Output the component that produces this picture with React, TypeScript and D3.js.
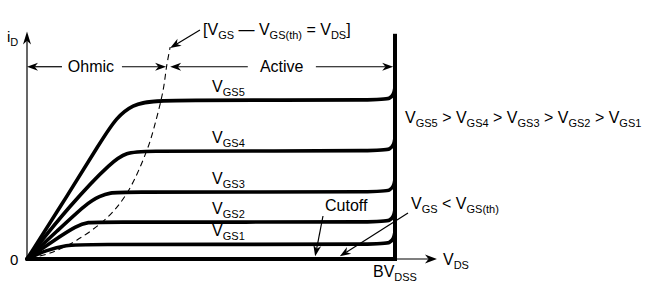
import React from "react";
import * as d3 from "d3";

// ---- data (VDS, iD in arbitrary % units of BVDSS / full scale) ----
const vgs5: [number, number][] = [[0,0],[10.8,28.2],[19.8,52.5],[24.4,64.4],[28.8,69.7],[33.4,71.9],[60,71.9],[96.7,71.9],[98.6,72.6],[99.7,74.6],[100,77.8]];
const vgs4: [number, number][] = [[0,0],[11.7,24.4],[23.4,44.8],[27.2,48.0],[30.7,48.9],[60,48.9],[96.7,48.9],[98.6,49.6],[99.7,51.6],[100,54.8]];
const vgs3: [number, number][] = [[0,0],[8.2,12.7],[16.3,25.3],[19.8,28.5],[22.6,30.0],[26.1,30.3],[60,30.3],[96.7,30.3],[98.6,31.0],[99.7,33.0],[100,36.2]];
const vgs2: [number, number][] = [[0,0],[7.2,8.3],[13.6,15.2],[16.6,16.7],[20,16.7],[60,16.7],[96.7,16.7],[98.6,17.4],[99.7,19.4],[100,22.6]];
const vgs1: [number, number][] = [[0,0],[5.4,4.1],[10.8,6.3],[15.2,6.6],[60,6.6],[96.7,6.6],[98.6,7.3],[99.7,9.3],[100,12.5]];
const cutoff: [number, number][] = [[0,0],[100,0]];
const breakdown: [number, number][] = [[100,0],[100,101]];
const boundary: [number, number][] = [[0.8,0.5],[6.3,2.7],[13.6,8.6],[21.7,18.6],[27.2,29.9],[32.6,49.3],[35.3,64.3],[37.0,76.5],[38.0,87.8],[38.9,95.9]];

const curves = [vgs5, vgs4, vgs3, vgs2, vgs1];
const curveNames = ["GS5", "GS4", "GS3", "GS2", "GS1"];
const plateaus = [71.9, 48.9, 30.3, 16.7, 6.6];
const labelX = 50.3;

const W = 663, H = 289;
const x = d3.scaleLinear().domain([0, 100]).range([27, 395]);
const y = d3.scaleLinear().domain([0, 100]).range([259, 38]);

const FONT = "'Liberation Sans', Arial, Helvetica, sans-serif";

type Seg = { t: string; sub?: boolean };
function RichText({ px, py, segs, size = 16, subSize = 11, shift = 4 }: { px: number; py: number; segs: Seg[]; size?: number; subSize?: number; shift?: number }) {
  let cur = 0;
  return (
    <text x={px} y={py} fontFamily={FONT} fontSize={size} fill="#000">
      {segs.map((s, i) => {
        const target = s.sub ? shift : 0;
        const dy = target - cur;
        cur = target;
        return (
          <tspan key={i} dy={dy} fontSize={s.sub ? subSize : size} style={{ whiteSpace: "pre" }}>
            {s.t}
          </tspan>
        );
      })}
    </text>
  );
}

function Arrow({ x1, y1, x2, y2, L = 11, Wd = 4 }: { x1: number; y1: number; x2: number; y2: number; L?: number; Wd?: number }) {
  const ang = Math.atan2(y2 - y1, x2 - x1);
  const deg = (ang * 180) / Math.PI;
  const bx = x2 - Math.cos(ang) * L * 0.7;
  const by = y2 - Math.sin(ang) * L * 0.7;
  return (
    <g>
      <line x1={x1} y1={y1} x2={bx} y2={by} stroke="#000" strokeWidth={1.2} />
      <path
        d={`M0,0 L${-L},${Wd} L${-L * 0.7},0 L${-L},${-Wd} Z`}
        transform={`translate(${x2},${y2}) rotate(${deg})`}
        fill="#000"
      />
    </g>
  );
}

export default function App() {
  const line = d3
    .line<[number, number]>()
    .x((d) => x(d[0]))
    .y((d) => y(d[1]))
    .curve(d3.curveBasis);
  const dashLine = d3
    .line<[number, number]>()
    .x((d) => x(d[0]))
    .y((d) => y(d[1]))
    .curve(d3.curveCatmullRom.alpha(0.5));
  const straight = d3
    .line<[number, number]>()
    .x((d) => x(d[0]))
    .y((d) => y(d[1]));

  const rowY = y(87);
  return (
    <svg
      width={W}
      height={H}
      style={{ position: "absolute", left: 0, top: 0, background: "#fff" }}
    >
      <rect width={W} height={H} fill="#fff" />
      {/* axes */}
      <Arrow x1={x(0)} y1={y(0)} x2={x(0)} y2={y(102.9)} L={13} Wd={4} />
      <Arrow x1={x(100)} y1={y(0)} x2={x(111.4)} y2={y(0)} L={12} Wd={4.5} />
      {/* boundary dashed */}
      <path d={dashLine(boundary) || ""} fill="none" stroke="#000" strokeWidth={1.1} strokeDasharray="6,4" />
      {/* curves */}
      {curves.map((c, i) => (
        <path key={i} d={line(c) || ""} fill="none" stroke="#000" strokeWidth={3.6} strokeLinecap="round" strokeLinejoin="round" />
      ))}
      <path d={straight(cutoff) || ""} fill="none" stroke="#000" strokeWidth={4} />
      <path d={straight(breakdown) || ""} fill="none" stroke="#000" strokeWidth={4} strokeLinecap="square" />
      {/* curve labels */}
      {curveNames.map((n, i) => (
        <RichText key={n} px={x(labelX)} py={y(plateaus[i]) - 8} segs={[{ t: "V" }, { t: n, sub: true }]} />
      ))}
      {/* region arrows */}
      <Arrow x1={x(9.5)} y1={rowY} x2={x(0)} y2={rowY} />
      <Arrow x1={x(25.8)} y1={rowY} x2={x(37.8)} y2={rowY} />
      <text x={x(11.1)} y={rowY + 5.5} fontFamily={FONT} fontSize={16}>Ohmic</text>
      <Arrow x1={x(60)} y1={rowY} x2={x(38.9)} y2={rowY} />
      <Arrow x1={x(78.5)} y1={rowY} x2={x(99.5)} y2={rowY} />
      <text x={x(63.3)} y={rowY + 5.5} fontFamily={FONT} fontSize={16}>Active</text>
      {/* boundary label */}
      <Arrow x1={x(47)} y1={30} x2={x(38.9)} y2={y(95.5)} />
      <RichText
        px={203}
        py={35}
        segs={[
          { t: "[V" },
          { t: "GS", sub: true },
          { t: " \u2014 V" },
          { t: "GS(th)", sub: true },
          { t: " = V" },
          { t: "DS", sub: true },
          { t: "]" },
        ]}
      />
      {/* ordering */}
      <RichText
        px={x(100) + 10}
        py={123}
        segs={[
          { t: "V" }, { t: "GS5", sub: true }, { t: " > V" }, { t: "GS4", sub: true },
          { t: " > V" }, { t: "GS3", sub: true }, { t: " > V" }, { t: "GS2", sub: true },
          { t: " > V" }, { t: "GS1", sub: true },
        ]}
      />
      {/* cutoff */}
      <text x={325} y={211} fontFamily={FONT} fontSize={16}>Cutoff</text>
      <Arrow x1={323} y1={216} x2={x(78.3)} y2={y(1.2)} />
      <RichText px={411} py={209} segs={[{ t: "V" }, { t: "GS", sub: true }, { t: " < V" }, { t: "GS(th)", sub: true }]} />
      <Arrow x1={408} y1={213} x2={x(85)} y2={y(1.2)} />
      {/* axis labels */}
      <RichText px={7} py={42} size={15} subSize={11} segs={[{ t: "i" }, { t: "D", sub: true }]} />
      <text x={10} y={265} fontFamily={FONT} fontSize={15}>0</text>
      <RichText px={443} py={265} segs={[{ t: "V" }, { t: "DS", sub: true }]} />
      <RichText px={373} py={277} segs={[{ t: "BV" }, { t: "DSS", sub: true }]} />
    </svg>
  );
}
